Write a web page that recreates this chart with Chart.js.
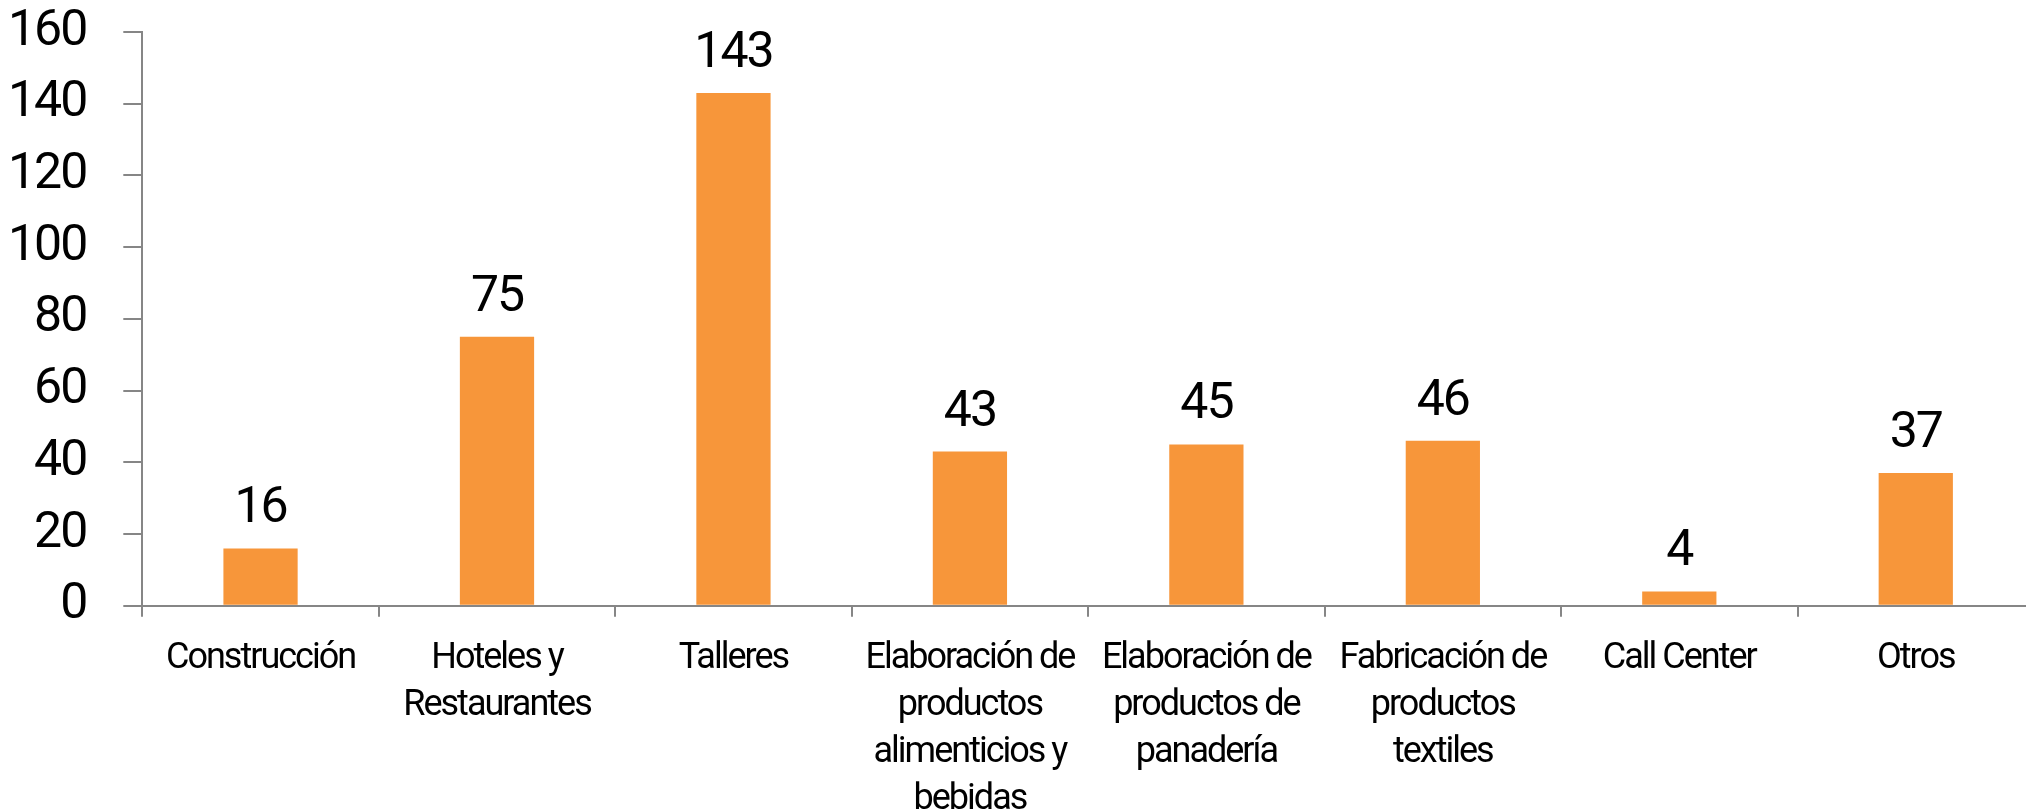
<!DOCTYPE html>
<html>
<head>
<meta charset="utf-8">
<script src="https://cdn.jsdelivr.net/npm/chart.js@4"></script>
<style>
  html, body { margin: 0; padding: 0; background: #fff; overflow: hidden; }
</style>
</head>
<body>
<canvas id="sectorChart" width="2034" height="810"></canvas>
<script>
// categories (multi-line labels as in the original)
const sectors = [
  'Construcción',
  ['Hoteles y', 'Restaurantes'],
  'Talleres',
  ['Elaboración de', 'productos', 'alimenticios y', 'bebidas'],
  ['Elaboración de', 'productos de', 'panadería'],
  ['Fabricación de', 'productos', 'textiles'],
  'Call Center',
  'Otros'
];
const counts = [16, 75, 143, 43, 45, 46, 4, 37];
const yTicks = [0, 20, 40, 60, 80, 100, 120, 140, 160];

const fontFamily = 'Roboto, "Liberation Sans", sans-serif';
const axisGrey = '#868686';

// the original font is a narrow one, tighten the letters a bit
const tightText = {
  id: 'tightText',
  beforeUpdate(chart) { chart.ctx.letterSpacing = '-2px'; },
  beforeDraw(chart) { chart.ctx.letterSpacing = '-2px'; }
};

// draws the value above each bar
const valueLabels = {
  id: 'valueLabels',
  afterDatasetsDraw(chart) {
    const ctx = chart.ctx;
    ctx.save();
    ctx.font = '50px ' + fontFamily;
    ctx.fillStyle = '#000';
    ctx.textAlign = 'center';
    ctx.textBaseline = 'alphabetic';
    chart.getDatasetMeta(0).data.forEach((bar, i) => {
      ctx.fillText(chart.data.datasets[0].data[i], bar.x, bar.y - 26);
    });
    ctx.restore();
  }
};

const data = {
  labels: sectors,
  datasets: [{
    data: counts,
    backgroundColor: '#F7963A',
    borderWidth: 0,
    categoryPercentage: 1,
    barPercentage: 0.314
  }]
};

const config = {
  type: 'bar',
  data,
  options: {
    responsive: false,
    devicePixelRatio: 1,
    animation: false,
    layout: { padding: { left: -29, top: 0, right: 0, bottom: -32 } },
    plugins: {
      legend: { display: false },
      tooltip: { enabled: false }
    },
    scales: {
      x: {
        grid: {
          offset: true,
          drawOnChartArea: false,
          drawTicks: true,
          tickLength: 11,
          color: axisGrey,
          lineWidth: 2
        },
        border: { color: axisGrey, width: 2 },
        ticks: {
          color: '#000',
          font: { family: fontFamily, size: 36, lineHeight: 1.3 },
          padding: 19,
          maxRotation: 0,
          autoSkip: false
        }
      },
      y: {
        min: 0,
        max: 160,
        afterBuildTicks: (scale) => { scale.ticks = yTicks.map(v => ({ value: v })); },
        // tick padding is also added above the axis, keep only half a label there
        afterFit: (scale) => { scale.paddingTop = 32; },
        grid: {
          drawOnChartArea: false,
          drawTicks: true,
          tickLength: 19,
          color: axisGrey,
          lineWidth: 2
        },
        border: { color: axisGrey, width: 2 },
        ticks: {
          color: '#000',
          font: { family: fontFamily, size: 50 },
          padding: 37
        }
      }
    }
  },
  plugins: [tightText, valueLabels]
};

var sectorChart = new Chart(document.getElementById('sectorChart'), config);
</script>
</body>
</html>
